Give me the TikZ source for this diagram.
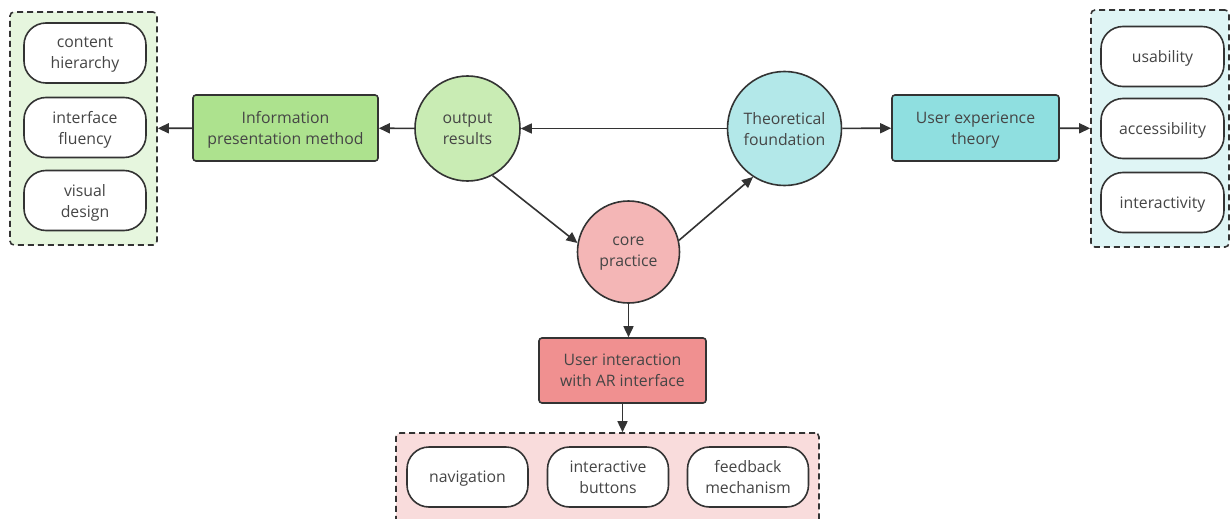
\documentclass[tikz,border=0pt]{standalone}
\usepackage{fontspec}
\setmainfont{Open Sans}
\usetikzlibrary{arrows.meta,calc}
\definecolor{txt}{HTML}{454545}
\definecolor{ln}{HTML}{333333}
\definecolor{gbox}{HTML}{ADE28E}
\definecolor{gcirc}{HTML}{C9ECB4}
\definecolor{gcont}{HTML}{E6F6DE}
\definecolor{cbox}{HTML}{8FDFE0}
\definecolor{ccirc}{HTML}{B3E8E9}
\definecolor{ccont}{HTML}{DFF5F5}
\definecolor{rbox}{HTML}{F09090}
\definecolor{rcirc}{HTML}{F4B6B6}
\definecolor{rcont}{HTML}{F9DCDC}
\tikzset{
  every node/.style={text=txt, font=\fontsize{15.8}{21}\selectfont, align=center, text depth=0pt},
  pill/.style={draw=ln, line width=1.6pt, fill=white, rounded corners=22pt, minimum width=122pt, minimum height=60pt, inner sep=0pt},
  cont/.style={draw=ln, line width=1.6pt, dashed, dash pattern=on 6pt off 4pt, rounded corners=4pt, inner sep=0pt},
  boxx/.style={draw=ln, line width=1.6pt, rounded corners=3pt, inner sep=0pt},
  circ/.style={draw=ln, line width=1.6pt, circle, inner sep=0pt},
  arr/.style={draw=ln, line width=1.6pt, -{Triangle[length=11pt,width=10pt]}}
}
\begin{document}
\begin{tikzpicture}[x=1pt,y=-1pt]
\clip (0,0) rectangle (1231,519);
\fill[white] (0,0) rectangle (1231,519);
% containers
\node[cont, fill=gcont, minimum width=147pt, minimum height=233pt] (lc) at (83.5,128.5) {};
\node[cont, fill=ccont, minimum width=138pt, minimum height=237pt] (rc) at (1160,128.5) {};
\node[cont, fill=rcont, minimum width=423pt, minimum height=130pt] (bc) at (607.5,498) {};
% left pills
\node[pill] (ch) at (85,53) {content\\hierarchy};
\node[pill] (if) at (85,127.5) {interface\\fluency};
\node[pill] (vd) at (85,200.5) {visual\\design};
% right pills
\node[pill, minimum width=123pt] (us) at (1162.5,56.5) {usability};
\node[pill, minimum width=123pt] (ac) at (1162.5,128.5) {accessibility};
\node[pill, minimum width=123pt] (ia) at (1162.5,202.5) {interactivity};
% bottom pills
\node[pill, minimum width=121pt] (nav) at (467.5,477) {navigation};
\node[pill, minimum width=121pt] (ib) at (608,477) {interactive\\buttons};
\node[pill, minimum width=121pt] (fm) at (748,477) {feedback\\mechanism};
% boxes
\node[boxx, fill=gbox, minimum width=185pt, minimum height=66pt] (ipm) at (285.5,128) {Information\\presentation method};
\node[boxx, fill=cbox, minimum width=167pt, minimum height=66pt] (uxt) at (975.5,128) {User experience\\theory};
\node[boxx, fill=rbox, minimum width=167pt, minimum height=65pt] (ui) at (622.5,370.5) {User interaction\\with AR interface};
% circles
\node[circ, fill=gcirc, minimum size=105pt] (out) at (467.5,128.5) {output\\results};
\node[circ, fill=ccirc, minimum size=114pt] (theo) at (784.5,128.5) {Theoretical\\foundation};
\node[circ, fill=rcirc, minimum size=102pt] (core) at (628.5,252) {core\\practice};
% connectors
\draw[arr] (theo) -- (out);
\draw[arr] (out) -- (ipm);
\draw[arr] (ipm) -- (lc);
\draw[arr] (theo) -- (uxt);
\draw[arr] (uxt) -- (rc);
\draw[arr] (out.-62) -- (core.170);
\draw[arr] (core.13) -- (theo.237);
\draw[arr] (core.south) -- (core.south |- ui.north);
\draw[arr] (ui.south) -- (ui.south |- bc.north);
\end{tikzpicture}
\end{document}
